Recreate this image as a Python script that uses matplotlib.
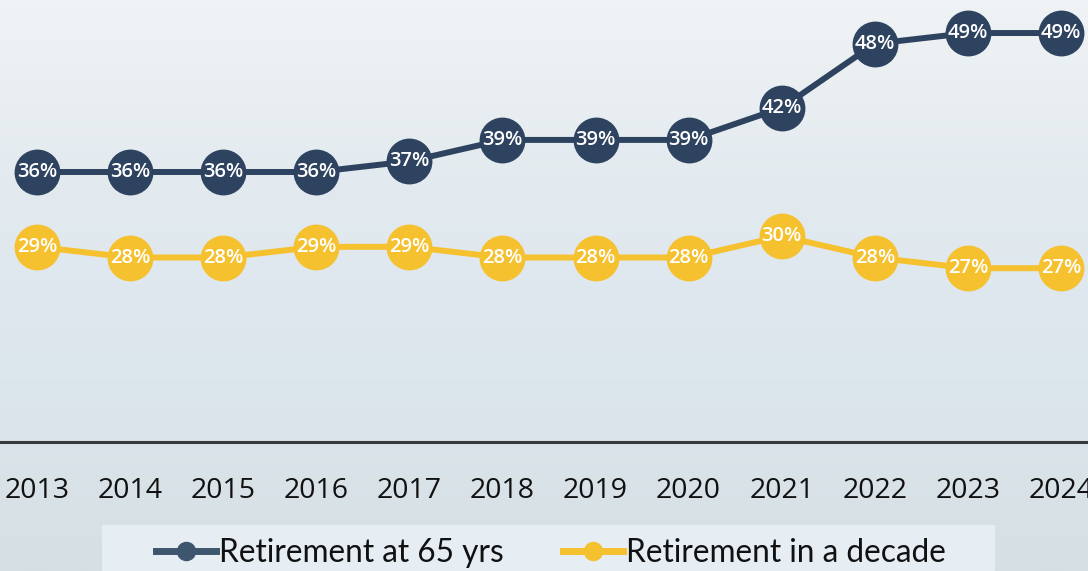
import matplotlib
matplotlib.use("Agg")
import matplotlib.pyplot as plt
import numpy as np
from matplotlib.lines import Line2D
from matplotlib.patches import Rectangle
from matplotlib.colors import LinearSegmentedColormap

years = [2013, 2014, 2015, 2016, 2017, 2018, 2019, 2020, 2021, 2022, 2023, 2024]
retire_65 = [36, 36, 36, 36, 37, 39, 39, 39, 42, 48, 49, 49]
retire_decade = [29, 28, 28, 29, 29, 28, 28, 28, 30, 28, 27, 27]
series_names = ["Retirement at 65 yrs", "Retirement in a decade"]

navy = "#2e4360"
gold = "#f6c12f"

plt.rcParams['font.family'] = ['Open Sans', 'DejaVu Sans']

fig = plt.figure(figsize=(10.88, 5.71), dpi=100)

# background gradient (scan paper tone)
bgax = fig.add_axes([0, 0, 1, 1], zorder=-10)
cmap = LinearSegmentedColormap.from_list(
    "bg", ["#f0f3f5", "#e2eaef", "#dce6ed", "#d6dfe3"])
grad = np.linspace(0, 1, 256).reshape(-1, 1)
bgax.imshow(grad, aspect='auto', cmap=cmap, extent=[0, 1, 0, 1], origin='upper')
bgax.set_axis_off()
bgax.add_patch(Rectangle((102 / 1088, 0), (995 - 102) / 1088, (571 - 525) / 571,
                         facecolor='#e6eef3', edgecolor='none'))

ax = fig.add_axes([0, (571 - 442) / 571, 1, 442 / 571])
ax.patch.set_alpha(0)

for vals, col in [(retire_65, navy), (retire_decade, gold)]:
    ax.plot(years, vals, color=col, lw=4.3, marker='o', markersize=32,
            markerfacecolor=col, markeredgecolor=col, zorder=3)
    for x, v in zip(years, vals):
        ax.text(x, v, f"{v}%", color='white', fontsize=14.5, fontweight='semibold',
                ha='center', va='center', zorder=4)

ax.set_xlim(2012.603, 2024.29)
ax.set_ylim(10.74, 52.09)
for s in ['top', 'right', 'left']:
    ax.spines[s].set_visible(False)
ax.spines['bottom'].set_color('#3a3a3a')
ax.spines['bottom'].set_linewidth(2.2)
ax.set_yticks([])
ax.set_xticks(years)
ax.set_xticklabels([str(y) for y in years], fontsize=20.5, color='#111111',
                   fontweight='medium')
ax.tick_params(axis='x', length=0, pad=25)

handles = [Line2D([], [], color="#3d566e", lw=5, marker='o', markersize=13),
           Line2D([], [], color=gold, lw=5, marker='o', markersize=13)]
leg = fig.legend(handles, series_names, loc='center left', ncol=2,
                 bbox_to_anchor=(156 / 1088, (571 - 553) / 571), frameon=False,
                 prop={'family': ['Lato', 'DejaVu Sans'], 'size': 22.8},
                 handlelength=1.9, columnspacing=1.85, handletextpad=0.1,
                 borderpad=0.0, borderaxespad=0.0)
for t in leg.get_texts():
    t.set_color('#111111')

fig.savefig("out.png", dpi=100)
